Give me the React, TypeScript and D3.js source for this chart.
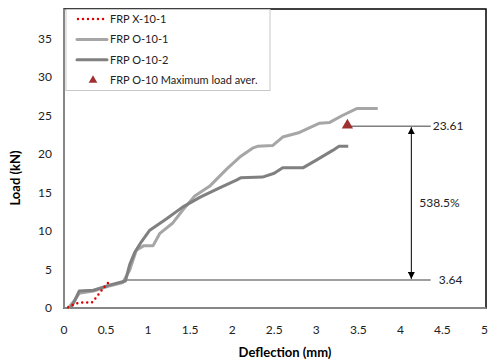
import * as d3 from "d3";

// FRP X-10-1 (red dotted)
const seriesX101: [number, number][] = [
  [0.05, 0.1], [0.12, 0.5], [0.18, 0.7], [0.33, 0.7], [0.37, 1.2],
  [0.42, 1.9], [0.5, 3.0], [0.55, 3.6],
];

// FRP O-10-1 (light gray)
const seriesO101: [number, number][] = [
  [0.05, 0], [0.12, 0.9], [0.18, 1.9], [0.35, 2.2], [0.55, 2.9], [0.7, 3.3],
  [0.78, 4.9], [0.86, 7.5], [0.95, 8.1], [1.06, 8.1], [1.14, 9.7], [1.29, 11],
  [1.41, 12.7], [1.55, 14.5], [1.73, 15.8], [1.94, 18.1], [2.09, 19.6],
  [2.25, 20.8], [2.3, 21], [2.48, 21.1], [2.6, 22.2], [2.8, 22.8], [3.04, 24],
  [3.16, 24.1], [3.31, 25], [3.48, 25.9], [3.73, 25.9],
];

// FRP O-10-2 (dark gray)
const seriesO102: [number, number][] = [
  [0.08, 0], [0.12, 0.8], [0.18, 2.2], [0.35, 2.3], [0.55, 3.0], [0.73, 3.5],
  [0.78, 5.6], [0.84, 7.2], [0.92, 8.6], [1.02, 10.1], [1.22, 11.6],
  [1.41, 13.1], [1.62, 14.4], [1.85, 15.6], [2.05, 16.6], [2.1, 16.9],
  [2.36, 17.0], [2.5, 17.5], [2.6, 18.2], [2.84, 18.2], [3.0, 19.2],
  [3.2, 20.5], [3.27, 21], [3.38, 21],
];

const maxLoadPoint: [number, number] = [3.37, 23.61];
const lowLoad = 3.64;
const lowLoadStart = 0.72;
const pctLabel = "538.5%";

const xTicks = [0, 0.5, 1, 1.5, 2, 2.5, 3, 3.5, 4, 4.5, 5];
const yTicks = [0, 5, 10, 15, 20, 25, 30, 35];

const legendItems = [
  { label: "FRP X-10-1", kind: "dot" },
  { label: "FRP O-10-1", kind: "light" },
  { label: "FRP O-10-2", kind: "dark" },
  { label: "FRP O-10 Maximum load aver.", kind: "tri" },
];

const W = 488;
const H = 361;
const left = 64, right = 486, top = 9, bottom = 308;
const font = "Lato, 'Open Sans', sans-serif";

export default function App() {
  const x = d3.scaleLinear().domain([0, 5]).range([left, right - 1.5]);
  const y = d3.scaleLinear().domain([0, 35]).range([bottom, 38.5]);
  const line = d3.line<[number, number]>().x(d => x(d[0])).y(d => y(d[1]));
  const tri = d3.symbol().type(d3.symbolTriangle).size(55)();
  const triSmall = d3.symbol().type(d3.symbolTriangle).size(32)();

  const annEnd = x(4.36);
  const arrowX = x(4.13);

  return (
    <svg width={W} height={H} style={{ position: "absolute", left: 0, top: 0, background: "#fff" }} fontFamily={font}>
      <defs>
        <marker id="ah" viewBox="0 0 10 10" refX="10" refY="5" markerWidth="7" markerHeight="7" orient="auto-start-reverse">
          <path d="M0,0 L10,5 L0,10 z" fill="#000" />
        </marker>
      </defs>
      {/* frame */}
      <rect x={left} y={top} width={right - left} height={bottom - top} fill="none" stroke="#000" strokeWidth={1.5} />
      <line x1={left} x2={left} y1={top} y2={bottom} stroke="#868686" strokeWidth={2} />
      <line x1={left} x2={right} y1={bottom} y2={bottom} stroke="#868686" strokeWidth={2} />

      {/* ticks */}
      {xTicks.map(t => (
        <text key={"x" + t} x={x(t)} y={334} fontSize={12} textAnchor="middle" fill="#222">{t}</text>
      ))}
      {yTicks.map(t => (
        <text key={"y" + t} x={52} y={y(t) + 4} fontSize={12} textAnchor="end" fill="#222">{t}</text>
      ))}
      <text x={285} y={357} fontSize={13} fontWeight="bold" textAnchor="middle" fill="#000">Deflection (mm)</text>
      <text transform={`translate(20,178) rotate(-90)`} fontSize={13} fontWeight="bold" textAnchor="middle" fill="#000">Load (kN)</text>

      {/* annotation lines */}
      <line x1={x(lowLoadStart)} x2={annEnd} y1={y(lowLoad)} y2={y(lowLoad)} stroke="#7f7f7f" strokeWidth={1.5} />
      <line x1={x(maxLoadPoint[0])} x2={annEnd} y1={y(maxLoadPoint[1])} y2={y(maxLoadPoint[1])} stroke="#7f7f7f" strokeWidth={1.5} />
      <line x1={arrowX} x2={arrowX} y1={y(lowLoad) - 1} y2={y(maxLoadPoint[1]) + 1} stroke="#000" strokeWidth={1} markerStart="url(#ah)" markerEnd="url(#ah)" />
      <text x={annEnd + 2} y={y(maxLoadPoint[1]) + 4} fontSize={12} fill="#222">{maxLoadPoint[1].toFixed(2)}</text>
      <text x={annEnd + 8} y={y(lowLoad) + 4} fontSize={12} fill="#222">{lowLoad.toFixed(2)}</text>
      <text x={arrowX + 8} y={207} fontSize={12} fill="#222">{pctLabel}</text>

      {/* series */}
      <path d={line(seriesO101) ?? ""} fill="none" stroke="#a6a6a6" strokeWidth={3} strokeLinejoin="round" />
      <path d={line(seriesO102) ?? ""} fill="none" stroke="#808080" strokeWidth={3} strokeLinejoin="round" />
      <path d={line(seriesX101) ?? ""} fill="none" stroke="#e00000" strokeWidth={2.5} strokeDasharray="0 5" strokeLinecap="round" />
      <path d={tri ?? ""} transform={`translate(${x(maxLoadPoint[0])},${y(maxLoadPoint[1]) - 1})`} fill="#a03030" />

      {/* legend */}
      <rect x={66} y={top + 0.5} width={204} height={81} fill="#fff" stroke="#c8c8c8" strokeWidth={1} />
      {legendItems.map((it, i) => {
        const cy = 19 + i * 20.4;
        return (
          <g key={it.label}>
            {it.kind === "dot" && <line x1={78} x2={106} y1={cy} y2={cy} stroke="#e00000" strokeWidth={2.5} strokeDasharray="0 5" strokeLinecap="round" />}
            {it.kind === "light" && <line x1={77} x2={107} y1={cy} y2={cy} stroke="#a6a6a6" strokeWidth={3} strokeLinecap="round" />}
            {it.kind === "dark" && <line x1={77} x2={107} y1={cy} y2={cy} stroke="#808080" strokeWidth={3} strokeLinecap="round" />}
            {it.kind === "tri" && <path d={triSmall ?? ""} transform={`translate(93,${cy})`} fill="#a03030" />}
            <text x={110} y={cy + 4} fontSize={11} fill="#222">{it.label}</text>
          </g>
        );
      })}
    </svg>
  );
}
